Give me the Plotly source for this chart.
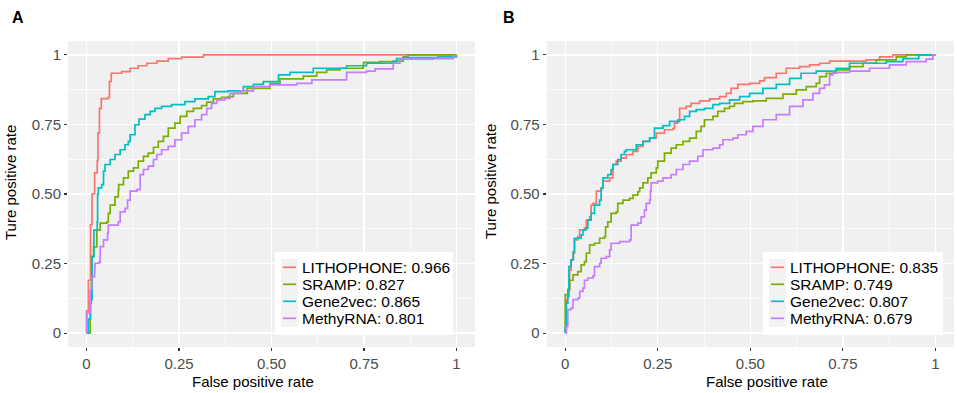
import plotly.graph_objects as go

# ---------------- data ----------------
METHODS = ["LITHOPHONE", "SRAMP", "Gene2vec", "MethyRNA"]
AUC_A = [0.966, 0.827, 0.865, 0.801]
AUC_B = [0.835, 0.749, 0.807, 0.679]
COLORS = ["#F8766D", "#7CAE00", "#00BFC4", "#C77CFF"]
TICK_VALS = [0, 0.25, 0.5, 0.75, 1]
TICK_TEXT = ["0", "0.25", "0.50", "0.75", "1"]
MINOR_VALS = [0.125, 0.375, 0.625, 0.875]

# (false positive rate, true positive rate) points, panel A
A_LITHOPHONE = [(0, 0), (0, 0.08), (0.005, 0.19), (0.011, 0.39), (0.015, 0.50), (0.022, 0.576),
                (0.029, 0.62), (0.031, 0.72), (0.035, 0.808), (0.040, 0.843), (0.059, 0.847),
                (0.062, 0.905), (0.067, 0.934), (0.095, 0.94), (0.118, 0.952), (0.140, 0.961),
                (0.163, 0.97), (0.190, 0.978), (0.221, 0.987), (0.257, 0.992), (0.316, 1.0), (1.0, 1.0)]
A_SRAMP = [(0, 0), (0.010, 0.108), (0.013, 0.18), (0.014, 0.275), (0.019, 0.31), (0.028, 0.37),
           (0.037, 0.395), (0.055, 0.40), (0.059, 0.43), (0.064, 0.46), (0.077, 0.49), (0.086, 0.514),
           (0.087, 0.534), (0.100, 0.558), (0.113, 0.582), (0.127, 0.594), (0.140, 0.618), (0.154, 0.635),
           (0.167, 0.647), (0.181, 0.668), (0.194, 0.689), (0.208, 0.707), (0.221, 0.737), (0.239, 0.755),
           (0.253, 0.779), (0.271, 0.797), (0.289, 0.808), (0.311, 0.818), (0.325, 0.830), (0.343, 0.842),
           (0.365, 0.847), (0.383, 0.850), (0.397, 0.862), (0.434, 0.880), (0.496, 0.898), (0.523, 0.914),
           (0.586, 0.924), (0.622, 0.937), (0.649, 0.946), (0.685, 0.952), (0.748, 0.961), (0.749, 0.973),
           (0.793, 0.976), (0.829, 0.978), (0.856, 0.993), (0.869, 1.0), (1.0, 1.0)]
A_GENE2VEC = [(0, 0), (0.005, 0.05), (0.011, 0.12), (0.015, 0.275), (0.020, 0.37), (0.029, 0.40),
              (0.030, 0.50), (0.032, 0.522), (0.041, 0.534), (0.046, 0.582), (0.050, 0.606), (0.064, 0.624),
              (0.077, 0.642), (0.091, 0.659), (0.104, 0.677), (0.113, 0.689), (0.118, 0.713), (0.131, 0.749),
              (0.142, 0.769), (0.158, 0.785), (0.172, 0.797), (0.185, 0.808), (0.203, 0.815), (0.230, 0.821),
              (0.266, 0.832), (0.293, 0.842), (0.329, 0.850), (0.347, 0.868), (0.383, 0.871), (0.424, 0.886),
              (0.451, 0.894), (0.478, 0.904), (0.519, 0.928), (0.550, 0.937), (0.613, 0.952), (0.703, 0.961),
              (0.757, 0.970), (0.829, 0.976), (0.838, 0.987), (0.856, 0.990), (0.950, 0.993), (1.0, 1.0)]
A_METHYRNA = [(0, 0), (0.001, 0.072), (0.010, 0.156), (0.014, 0.203), (0.022, 0.227), (0.023, 0.251),
              (0.034, 0.255), (0.037, 0.311), (0.046, 0.335), (0.057, 0.359), (0.059, 0.388), (0.086, 0.40),
              (0.091, 0.436), (0.104, 0.448), (0.111, 0.478), (0.118, 0.51), (0.136, 0.516), (0.145, 0.57),
              (0.154, 0.588), (0.167, 0.60), (0.181, 0.624), (0.190, 0.642), (0.203, 0.659), (0.221, 0.671),
              (0.239, 0.695), (0.257, 0.719), (0.275, 0.743), (0.293, 0.767), (0.311, 0.785), (0.325, 0.808),
              (0.338, 0.826), (0.352, 0.838), (0.374, 0.844), (0.388, 0.862), (0.415, 0.871), (0.451, 0.886),
              (0.496, 0.892), (0.568, 0.898), (0.609, 0.91), (0.685, 0.91), (0.703, 0.937), (0.757, 0.942),
              (0.780, 0.95), (0.829, 0.97), (0.847, 0.985), (0.937, 0.987), (0.991, 0.997), (1.0, 1.0)]

# panel B
B_LITHOPHONE = [(0, 0), (0, 0.006), (0.003, 0.12), (0.007, 0.156), (0.012, 0.227), (0.016, 0.263),
                (0.021, 0.287), (0.025, 0.335), (0.034, 0.347), (0.039, 0.371), (0.052, 0.377), (0.057, 0.406),
                (0.066, 0.418), (0.070, 0.46), (0.075, 0.466), (0.084, 0.484), (0.084, 0.51), (0.097, 0.522),
                (0.102, 0.546), (0.120, 0.558), (0.129, 0.606), (0.138, 0.618), (0.151, 0.629), (0.165, 0.642),
                (0.183, 0.653), (0.196, 0.671), (0.210, 0.689), (0.228, 0.701), (0.246, 0.719), (0.268, 0.731),
                (0.291, 0.735), (0.295, 0.755), (0.304, 0.767), (0.309, 0.808), (0.327, 0.815), (0.340, 0.826),
                (0.363, 0.835), (0.390, 0.842), (0.417, 0.850), (0.435, 0.862), (0.448, 0.880), (0.466, 0.894),
                (0.498, 0.898), (0.525, 0.907), (0.538, 0.918), (0.570, 0.934), (0.597, 0.952), (0.633, 0.958),
                (0.660, 0.964), (0.687, 0.970), (0.714, 0.978), (0.813, 0.982), (0.849, 0.993), (0.885, 1.0),
                (1.0, 1.0)]
B_SRAMP = [(0, 0), (0, 0.012), (0, 0.138), (0.007, 0.156), (0.012, 0.19), (0.021, 0.209), (0.034, 0.221),
           (0.043, 0.245), (0.052, 0.257), (0.057, 0.287), (0.066, 0.317), (0.079, 0.323), (0.093, 0.341),
           (0.106, 0.347), (0.109, 0.382), (0.115, 0.40), (0.124, 0.43), (0.138, 0.436), (0.142, 0.466),
           (0.156, 0.478), (0.174, 0.484), (0.183, 0.496), (0.196, 0.508), (0.201, 0.522), (0.210, 0.54),
           (0.223, 0.558), (0.232, 0.576), (0.246, 0.594), (0.250, 0.618), (0.268, 0.647), (0.286, 0.665),
           (0.300, 0.677), (0.318, 0.689), (0.336, 0.701), (0.354, 0.725), (0.367, 0.743), (0.376, 0.767),
           (0.399, 0.779), (0.412, 0.797), (0.430, 0.808), (0.444, 0.815), (0.457, 0.826), (0.480, 0.832),
           (0.507, 0.835), (0.543, 0.844), (0.588, 0.859), (0.624, 0.874), (0.651, 0.886), (0.678, 0.898),
           (0.687, 0.922), (0.705, 0.934), (0.732, 0.946), (0.768, 0.958), (0.804, 0.970), (0.840, 0.982),
           (0.894, 0.993), (0.921, 1.0), (1.0, 1.0)]
B_GENE2VEC = [(0, 0), (0, 0.019), (0.003, 0.108), (0.007, 0.132), (0.010, 0.239), (0.016, 0.263),
              (0.022, 0.293), (0.025, 0.341), (0.043, 0.353), (0.048, 0.371), (0.057, 0.377), (0.061, 0.406),
              (0.070, 0.43), (0.079, 0.46), (0.093, 0.478), (0.097, 0.514), (0.098, 0.522), (0.102, 0.558),
              (0.115, 0.57), (0.124, 0.588), (0.129, 0.606), (0.142, 0.624), (0.151, 0.642), (0.160, 0.653),
              (0.165, 0.659), (0.187, 0.659), (0.192, 0.677), (0.210, 0.689), (0.228, 0.701), (0.241, 0.737),
              (0.264, 0.746), (0.282, 0.761), (0.309, 0.767), (0.322, 0.779), (0.336, 0.797), (0.354, 0.803),
              (0.376, 0.808), (0.399, 0.821), (0.417, 0.826), (0.444, 0.838), (0.471, 0.850), (0.498, 0.862),
              (0.534, 0.880), (0.570, 0.894), (0.606, 0.916), (0.637, 0.934), (0.678, 0.942), (0.732, 0.952),
              (0.768, 0.970), (0.867, 0.976), (0.912, 0.987), (0.955, 0.993), (0.955, 1.0), (1.0, 1.0)]
B_METHYRNA = [(0, 0), (0.003, 0.024), (0.007, 0.084), (0.016, 0.09), (0.021, 0.12), (0.034, 0.126),
              (0.039, 0.15), (0.048, 0.162), (0.052, 0.19), (0.061, 0.198), (0.075, 0.206), (0.079, 0.239),
              (0.093, 0.251), (0.097, 0.269), (0.111, 0.275), (0.120, 0.299), (0.124, 0.323), (0.147, 0.329),
              (0.174, 0.335), (0.178, 0.388), (0.196, 0.395), (0.205, 0.418), (0.214, 0.442), (0.219, 0.466),
              (0.228, 0.478), (0.230, 0.51), (0.232, 0.54), (0.250, 0.546), (0.264, 0.558), (0.286, 0.57),
              (0.300, 0.588), (0.318, 0.606), (0.336, 0.618), (0.358, 0.635), (0.372, 0.659), (0.399, 0.665),
              (0.417, 0.677), (0.426, 0.695), (0.453, 0.701), (0.466, 0.713), (0.489, 0.725), (0.507, 0.743),
              (0.534, 0.767), (0.570, 0.785), (0.606, 0.815), (0.642, 0.838), (0.669, 0.862), (0.687, 0.880),
              (0.700, 0.892), (0.714, 0.928), (0.723, 0.937), (0.768, 0.942), (0.822, 0.952), (0.876, 0.964),
              (0.921, 0.976), (0.975, 0.985), (0.993, 1.0), (1.0, 1.0)]

PANEL_A = [A_LITHOPHONE, A_SRAMP, A_GENE2VEC, A_METHYRNA]
PANEL_B = [B_LITHOPHONE, B_SRAMP, B_GENE2VEC, B_METHYRNA]

# ---------------- layout helpers ----------------
W, H = 957, 393
FONT = "Arial, Liberation Sans, sans-serif"


def px(x):
    return x / W


def py(y):
    return 1 - y / H


fig = go.Figure()

for panel, xa, ya in [(PANEL_A, "x", "y"), (PANEL_B, "x2", "y2")]:
    for i, pts in enumerate(panel):
        fig.add_trace(go.Scatter(
            x=[p[0] for p in pts], y=[p[1] for p in pts], mode="lines",
            line=dict(color=COLORS[i], width=1.7, shape="hv"),
            xaxis=xa, yaxis=ya, showlegend=False, hoverinfo="skip", name=METHODS[i]))


def axis(domain, anchor):
    return dict(
        domain=domain, anchor=anchor, range=[-0.05, 1.05],
        tickmode="array", tickvals=TICK_VALS, ticktext=TICK_TEXT,
        ticks="outside", ticklen=3, tickwidth=1.1, tickcolor="#333333",
        tickfont=dict(size=15, color="#4D4D4D", family=FONT),
        showgrid=True, gridcolor="white", gridwidth=1.4,
        zeroline=False, showline=False, fixedrange=True,
        minor=dict(tickvals=MINOR_VALS, showgrid=True, gridcolor="white", gridwidth=0.7, ticks=""),
    )


ydom = [py(347), py(41)]
fig.update_layout(
    width=W, height=H, margin=dict(l=0, r=0, t=0, b=0),
    paper_bgcolor="white", plot_bgcolor="#F0F0F0",
    font=dict(family=FONT, color="black"),
    xaxis=axis([px(68), px(475)], "y"),
    yaxis=axis(ydom, "x"),
    xaxis2=axis([px(546.7), px(954)], "y2"),
    yaxis2=axis(ydom, "x2"),
    showlegend=False,
)

shapes = []
annotations = []

# legends (drawn manually to match ggplot's inset legend)
for aucs, box, keycol, keyline, textx in [
    (AUC_A, (275, 453), (281, 298), (283, 296), 300),
    (AUC_B, (763, 943), (769, 786), (771, 784), 788),
]:
    shapes.append(dict(type="rect", xref="paper", yref="paper", x0=px(box[0]), x1=px(box[1]),
                       y0=py(335), y1=py(252), fillcolor="white", line=dict(width=0), layer="above"))
    shapes.append(dict(type="rect", xref="paper", yref="paper", x0=px(keycol[0]), x1=px(keycol[1]),
                       y0=py(327), y1=py(259), fillcolor="#F2F2F2", line=dict(width=0), layer="above"))
    for i, name in enumerate(METHODS):
        yy = 267.3 + 17 * i
        shapes.append(dict(type="line", xref="paper", yref="paper", x0=px(keyline[0]), x1=px(keyline[1]),
                           y0=py(yy), y1=py(yy), line=dict(color=COLORS[i], width=1.7), layer="above"))
        annotations.append(dict(x=px(textx), y=py(yy), xref="paper", yref="paper",
                                text=f"{name}: {aucs[i]:.3f}", showarrow=False,
                                xanchor="left", yanchor="middle",
                                font=dict(size=15.5, color="black", family=FONT)))

# axis titles and panel labels
for cx in (253, 766.7):
    annotations.append(dict(x=px(cx), y=py(381.5), xref="paper", yref="paper", text="False positive rate",
                            showarrow=False, xanchor="center", yanchor="middle",
                            font=dict(size=15, color="black", family=FONT)))
for cx, cy in ((10, 183), (490, 181)):
    annotations.append(dict(x=px(cx), y=py(cy), xref="paper", yref="paper", text="Ture positive rate",
                            showarrow=False, textangle=-90, xanchor="center", yanchor="middle",
                            font=dict(size=15, color="black", family=FONT)))
for lbl, cx in (("A", 18), ("B", 508.5)):
    annotations.append(dict(x=px(cx), y=py(17.5), xref="paper", yref="paper", text=f"<b>{lbl}</b>",
                            showarrow=False, xanchor="center", yanchor="middle",
                            font=dict(size=16, color="black", family=FONT)))

fig.update_layout(shapes=shapes, annotations=annotations)
# remove the browser's default 8px body margin so the 957x393 figure fills the window exactly
fig.write_html("out.html",
               config={"displayModeBar": False, "staticPlot": True},
               post_script="document.body.style.margin='0';document.body.style.overflow='hidden';")
